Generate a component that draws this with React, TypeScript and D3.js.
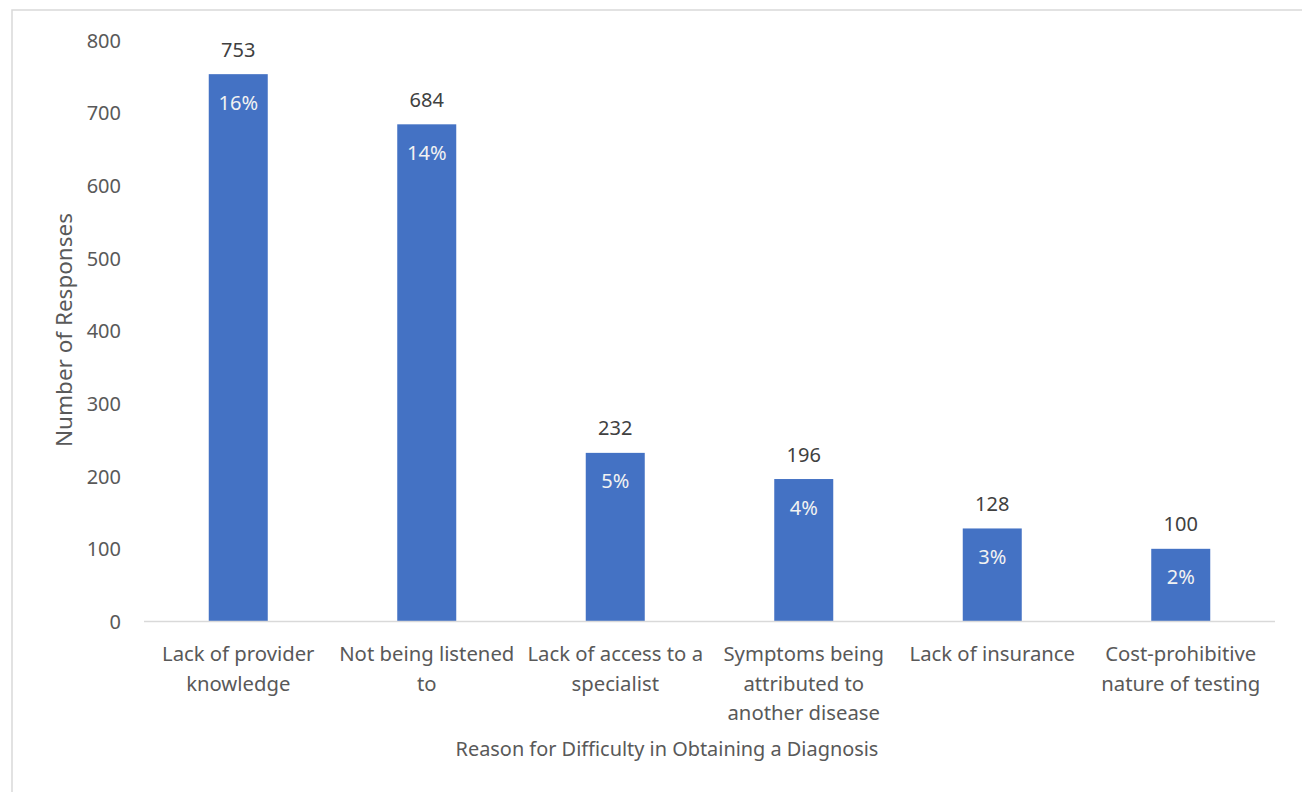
import React from "react";
import * as d3 from "d3";

const categories: string[][] = [
  ["Lack of provider", "knowledge"],
  ["Not being listened", "to"],
  ["Lack of access to a", "specialist"],
  ["Symptoms being", "attributed to", "another disease"],
  ["Lack of insurance"],
  ["Cost-prohibitive", "nature of testing"],
];
const responses: number[] = [753, 684, 232, 196, 128, 100];
const percents: string[] = ["16%", "14%", "5%", "4%", "3%", "2%"];
const yTicks: number[] = [0, 100, 200, 300, 400, 500, 600, 700, 800];
const xTitle = "Reason for Difficulty in Obtaining a Diagnosis";
const yTitle = "Number of Responses";

const W = 1302;
const H = 792;
const plot = { left: 144, right: 1275, top: 40, bottom: 621.5 };
const FONT = "'Noto Sans', 'Open Sans', sans-serif";
const TEXT = "#595959";
const BAR = "#4472C4";

export default function App() {
  const x = d3
    .scaleBand<number>()
    .domain(d3.range(categories.length))
    .range([plot.left, plot.right])
    .paddingInner(0.687)
    .paddingOuter(0.3435);
  const y = d3.scaleLinear().domain([0, 800]).range([plot.bottom, plot.top]);

  return (
    <svg
      width={W}
      height={H}
      style={{ position: "absolute", left: 0, top: 0, background: "#fff" }}
      fontFamily={FONT}
    >
      <rect x={12} y={10} width={W + 20} height={H + 20} fill="#fff" stroke="#d9d9d9" strokeWidth={1.5} />
      {yTicks.map((t) => (
        <text key={t} x={121} y={y(t)} textAnchor="end" dominantBaseline="central" fontSize={20} fill={TEXT}>
          {t}
        </text>
      ))}
      {responses.map((v, i) => {
        const bx = x(i)!;
        const cx = bx + x.bandwidth() / 2;
        return (
          <g key={i}>
            <rect x={bx} y={y(v)} width={x.bandwidth()} height={y(0) - y(v)} fill={BAR} />
            <text x={cx} y={y(v) - 25} textAnchor="middle" dominantBaseline="central" fontSize={20} fill="#404040">
              {v}
            </text>
            <text x={cx} y={y(v) + 28} textAnchor="middle" dominantBaseline="central" fontSize={20} fill="#f2f2f2">
              {percents[i]}
            </text>
            {categories[i].map((line, j) => (
              <text
                key={j}
                x={cx}
                y={653 + j * 29.5}
                textAnchor="middle"
                dominantBaseline="central"
                fontSize={20.3}
                fill={TEXT}
              >
                {line}
              </text>
            ))}
          </g>
        );
      })}
      <line x1={plot.left} x2={plot.right} y1={y(0)} y2={y(0)} stroke="#d9d9d9" strokeWidth={1.5} />
      <text x={667} y={748} textAnchor="middle" dominantBaseline="central" fontSize={19.9} fill={TEXT}>
        {xTitle}
      </text>
      <text
        transform={`translate(63,330) rotate(-90)`}
        textAnchor="middle"
        dominantBaseline="central"
        fontSize={22.5}
        fill={TEXT}
      >
        {yTitle}
      </text>
    </svg>
  );
}
